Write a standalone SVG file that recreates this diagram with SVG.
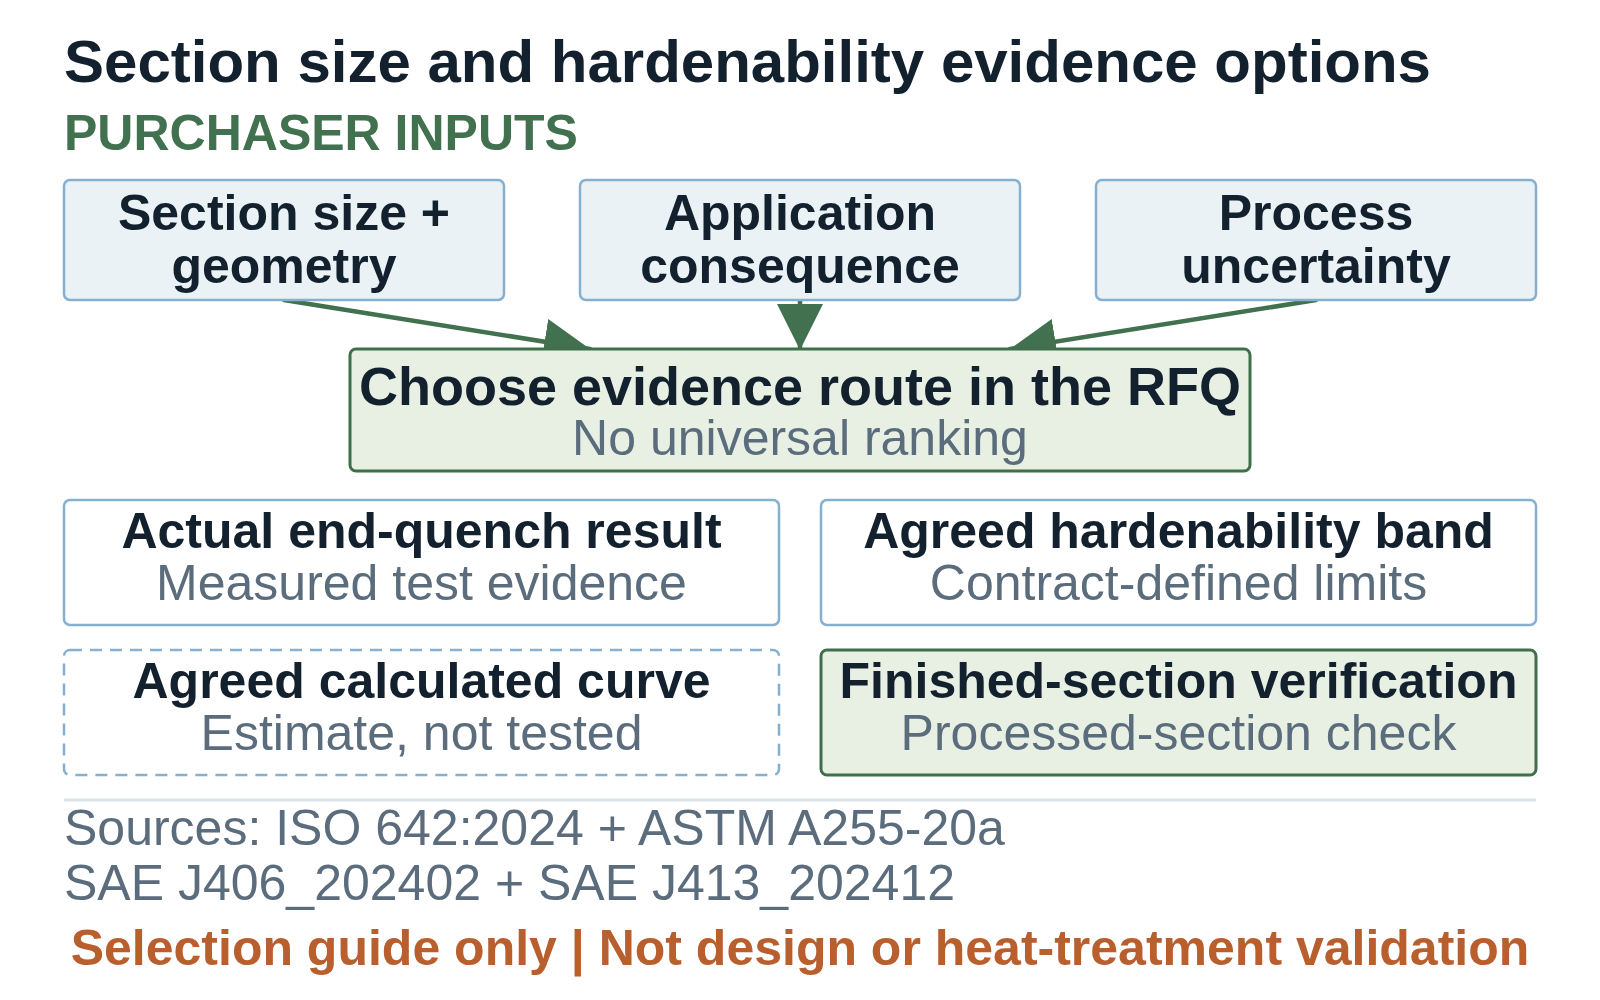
<svg xmlns="http://www.w3.org/2000/svg" width="1600" height="1000" viewBox="0 0 1600 1000">
<defs>
<style>
text{font-family:"Liberation Sans",Arial,Helvetica,sans-serif;}
.title{font-size:60px;font-weight:bold;fill:#13212e;}
.kicker{font-size:50px;font-weight:bold;fill:#41714e;}
.lbl{font-size:50px;font-weight:bold;fill:#13212e;text-anchor:middle;}
.big{font-size:54px;font-weight:bold;fill:#13212e;text-anchor:middle;}
.sub{font-size:50px;fill:#5b6d7d;text-anchor:middle;}
.src{font-size:50px;fill:#5b6d7d;}
.warn{font-size:50px;font-weight:bold;fill:#b95f2e;text-anchor:middle;}
.inp{fill:#eaf2f6;stroke:#86b0cf;stroke-width:2.5;}
.opt{fill:#ffffff;stroke:#86b0cf;stroke-width:2.5;}
.dash{fill:#ffffff;stroke:#86b0cf;stroke-width:2.5;stroke-dasharray:12 8;}
.grn{fill:#e7f0e3;stroke:#3f6f4b;stroke-width:3;}
.conn{stroke:#41714e;stroke-width:4.5;fill:none;stroke-linecap:round;}
</style>
<marker id="ah" markerUnits="userSpaceOnUse" viewBox="0 0 10 10" markerWidth="46" markerHeight="49" refX="10" refY="5" orient="auto">
<path d="M0,0 L10,5 L0,10 z" fill="#41714e"/>
</marker>
</defs>
<rect width="1600" height="1000" fill="#ffffff"/>
<text class="title" x="64" y="82">Section size and hardenability evidence options</text>
<text class="kicker" x="64" y="150">PURCHASER INPUTS</text>
<g id="connectors">
<line class="conn" x1="284" y1="300" x2="590" y2="349" marker-end="url(#ah)"/>
<line class="conn" x1="800" y1="300" x2="800" y2="350" marker-end="url(#ah)"/>
<line class="conn" x1="1316" y1="300" x2="1010" y2="349" marker-end="url(#ah)"/>
</g>
<g id="node-section-size">
<rect class="inp" x="64" y="180" width="440" height="120" rx="6"/>
<text class="lbl" x="284" y="230">Section size +</text>
<text class="lbl" x="284" y="283">geometry</text>
</g>
<g id="node-application">
<rect class="inp" x="580" y="180" width="440" height="120" rx="6"/>
<text class="lbl" x="800" y="230">Application</text>
<text class="lbl" x="800" y="283">consequence</text>
</g>
<g id="node-process">
<rect class="inp" x="1096" y="180" width="440" height="120" rx="6"/>
<text class="lbl" x="1316" y="230">Process</text>
<text class="lbl" x="1316" y="283">uncertainty</text>
</g>
<g id="node-choose">
<rect class="grn" x="350" y="349" width="900" height="122" rx="6"/>
<text class="big" x="800" y="405">Choose evidence route in the RFQ</text>
<text class="sub" x="800" y="455">No universal ranking</text>
</g>
<g id="node-actual">
<rect class="opt" x="64" y="500" width="715" height="125" rx="6"/>
<text class="lbl" x="421.5" y="548">Actual end-quench result</text>
<text class="sub" x="421.5" y="600">Measured test evidence</text>
</g>
<g id="node-band">
<rect class="opt" x="821" y="500" width="715" height="125" rx="6"/>
<text class="lbl" x="1178.5" y="548">Agreed hardenability band</text>
<text class="sub" x="1178.5" y="600">Contract-defined limits</text>
</g>
<g id="node-calculated">
<rect class="dash" x="64" y="650" width="715" height="125" rx="6"/>
<text class="lbl" x="421.5" y="698">Agreed calculated curve</text>
<text class="sub" x="421.5" y="750">Estimate, not tested</text>
</g>
<g id="node-finished">
<rect class="grn" x="821" y="650" width="715" height="125" rx="6"/>
<text class="lbl" x="1178.5" y="698">Finished-section verification</text>
<text class="sub" x="1178.5" y="750">Processed-section check</text>
</g>
<line x1="64" y1="800" x2="1536" y2="800" stroke="#dbe3ea" stroke-width="3"/>
<text class="src" x="64" y="845">Sources: ISO 642:2024 + ASTM A255-20a</text>
<text class="src" x="64" y="900">SAE J406_202402 + SAE J413_202412</text>
<text class="warn" x="800" y="965">Selection guide only | Not design or heat-treatment validation</text>
</svg>
